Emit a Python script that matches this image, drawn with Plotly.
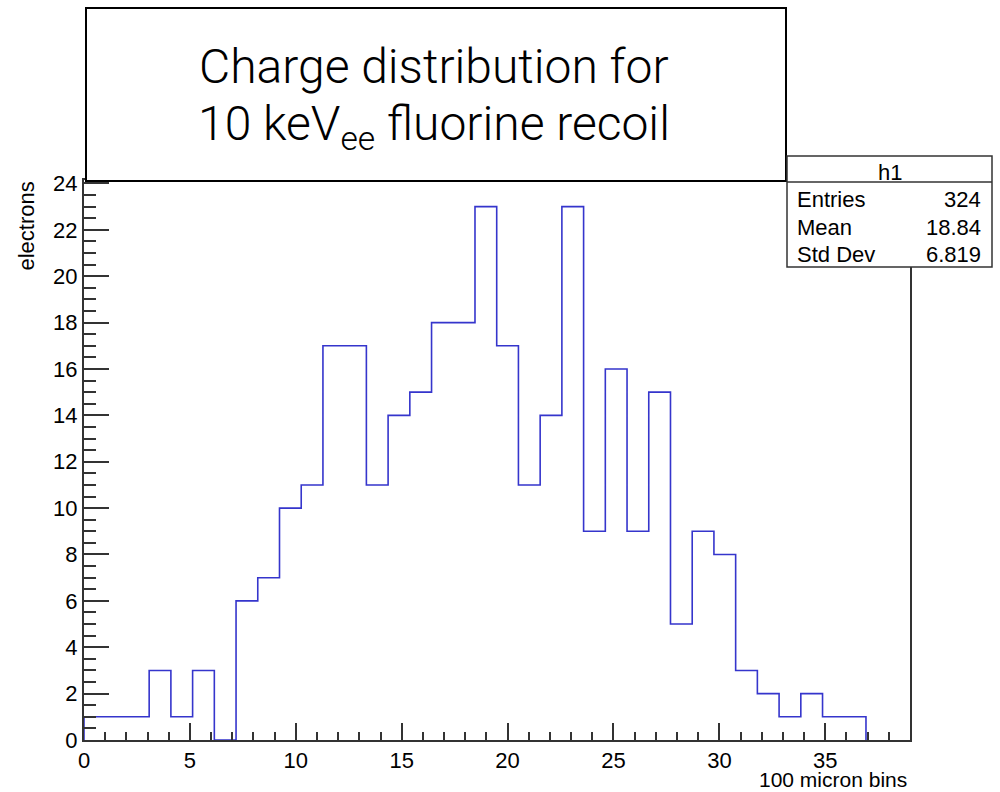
import numpy as np
import plotly.graph_objects as go

# ---- data ----
bin_width = 1.0256
counts = [1, 1, 1, 3, 1, 3, 0, 6, 7, 10, 11, 17, 17, 11, 14, 15, 18, 18,
          23, 17, 11, 14, 23, 9, 16, 9, 15, 5, 9, 8, 3, 2, 1, 2, 1, 1]
x_range = [0, 39]
y_range = [0, 24.15]
stats_labels = ["Entries", "Mean", "Std Dev"]
stats_values = ["324", "18.84", "6.819"]
hist_name = "h1"

# ---- geometry ----
W, H = 1000, 792
ML, MR, MT, MB = 84, 90, 180, 52
PW, PH = W - ML - MR, H - MT - MB

def fx(p):
    return (p - ML) / PW

def fy(p):
    return (H - MB - p) / PH

edges = np.arange(len(counts) + 1) * bin_width
# explicit step outline of the histogram
sx, sy = [edges[0]], [0]
for i, c in enumerate(counts):
    sx += [edges[i], edges[i + 1]]
    sy += [c, c]
sx.append(edges[-1]); sy.append(0)

fig = go.Figure()
fig.add_trace(go.Scatter(x=sx, y=sy, mode="lines",
                         line=dict(color="#3535cc", width=1.6),
                         hoverinfo="skip", showlegend=False))

font_main = "Liberation Sans, Arial, Helvetica, sans-serif"
font_title = "Roboto, Liberation Sans, sans-serif"
axis_col = "#333333"
fs = 22

fig.update_layout(
    width=W, height=H,
    margin=dict(l=ML, r=MR, t=MT, b=MB),
    paper_bgcolor="white", plot_bgcolor="white",
    font=dict(family=font_main, size=fs, color="black"),
    showlegend=False,
    xaxis=dict(range=x_range, showgrid=False, zeroline=False,
               showline=True, linecolor=axis_col, linewidth=2, mirror=True,
               ticks="inside", ticklen=17, tickwidth=1.5, tickcolor=axis_col,
               tick0=0, dtick=5,
               minor=dict(ticks="inside", ticklen=8, tickwidth=1.5, tickcolor=axis_col, dtick=1, showgrid=False),
               tickfont=dict(size=fs, family=font_main)),
    yaxis=dict(range=y_range, showgrid=False, zeroline=False,
               showline=True, linecolor=axis_col, linewidth=2, mirror=True,
               ticks="inside", ticklen=25, tickwidth=1.5, tickcolor=axis_col,
               tick0=0, dtick=2,
               minor=dict(ticks="inside", ticklen=12, tickwidth=1.5, tickcolor=axis_col, dtick=0.5, showgrid=False),
               tickfont=dict(size=fs, family=font_main)),
)

shapes = []
annotations = []

# title box
shapes.append(dict(type="rect", xref="paper", yref="paper",
                   x0=fx(86), x1=fx(786), y0=fy(181), y1=fy(8),
                   line=dict(color="black", width=2), fillcolor="white", layer="above"))
annotations.append(dict(xref="paper", yref="paper", x=fx(434), y=fy(66),
                        text="Charge distribution for", showarrow=False,
                        xanchor="center", yanchor="middle",
                        font=dict(family=font_title, size=48, weight=300, color="black")))
annotations.append(dict(xref="paper", yref="paper", x=fx(434), y=fy(127),
                        text="10 keV<sub>ee</sub> fluorine recoil", showarrow=False,
                        xanchor="center", yanchor="middle",
                        font=dict(family=font_title, size=48, weight=300, color="black")))

# stats box
sb_l, sb_r, sb_t, sb_b, sb_h = 787, 992, 156, 267, 182
shapes.append(dict(type="rect", xref="paper", yref="paper",
                   x0=fx(sb_l), x1=fx(sb_r), y0=fy(sb_b), y1=fy(sb_t),
                   line=dict(color="#333333", width=1.5), fillcolor="white", layer="above"))
shapes.append(dict(type="line", xref="paper", yref="paper",
                   x0=fx(sb_l), x1=fx(sb_r), y0=fy(sb_h), y1=fy(sb_h),
                   line=dict(color="#333333", width=1.5), layer="above"))
annotations.append(dict(xref="paper", yref="paper", x=fx((sb_l + sb_r) / 2), y=fy(172),
                        text=hist_name, showarrow=False, xanchor="center", yanchor="middle",
                        font=dict(size=fs, family=font_main)))
row_y = [199, 227, 254]
for lab, val, ry in zip(stats_labels, stats_values, row_y):
    annotations.append(dict(xref="paper", yref="paper", x=fx(795), y=fy(ry),
                            text=lab, showarrow=False, xanchor="left", yanchor="middle",
                            font=dict(size=fs, family=font_main)))
    annotations.append(dict(xref="paper", yref="paper", x=fx(983), y=fy(ry),
                            text=val, showarrow=False, xanchor="right", yanchor="middle",
                            font=dict(size=fs, family=font_main)))

# axis titles
annotations.append(dict(xref="paper", yref="paper", x=fx(26), y=fy(180),
                        text="electrons", textangle=-90, showarrow=False,
                        xanchor="center", yanchor="top",
                        font=dict(size=fs, family=font_main)))
annotations.append(dict(xref="paper", yref="paper", x=fx(909), y=fy(779),
                        text="100 micron bins", showarrow=False,
                        xanchor="right", yanchor="middle",
                        font=dict(size=21, family=font_main)))

fig.update_layout(shapes=shapes, annotations=annotations)
fig.write_html("out.html")
